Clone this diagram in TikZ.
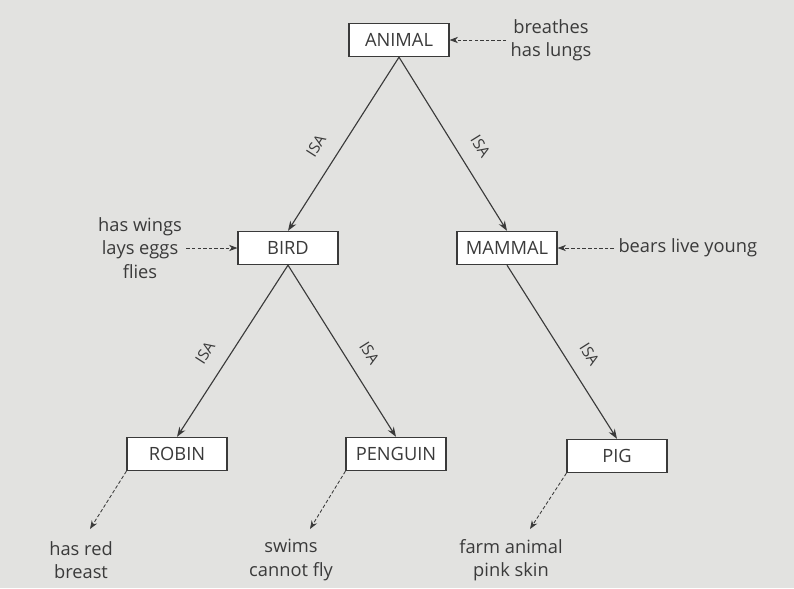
\documentclass[tikz,border=0pt]{standalone}
\usepackage{fontspec}
\setmainfont{Open Sans}
\usetikzlibrary{arrows.meta}
\definecolor{paper}{RGB}{226,226,224}
\definecolor{ink}{RGB}{58,58,58}
\tikzstyle{concept} = [
    rectangle,
    minimum width=2.5cm,
    minimum height=0.83cm,
    draw=ink,
    fill=white,
    line width=0.8pt,
    text=ink,
    font=\fontsize{13}{15}\selectfont
]
\tikzstyle{property} = [
    align=center,
    text=ink,
    inner sep=3pt,
    font=\fontsize{13}{16.5}\selectfont
]
\tikzstyle{isa} = [draw=ink, line width=0.8pt, -{Stealth[length=7pt,width=5pt]}]
\tikzstyle{has} = [draw=ink, line width=0.6pt, dash pattern=on 2.5pt off 1.5pt,
    -{Stealth[length=6pt,width=4.5pt]}]
\tikzstyle{isalabel} = [sloped, above=8pt, pos=0.58, text=ink, font=\fontsize{11}{13}\selectfont]

\begin{document}
\begin{tikzpicture}[x=0.025cm, y=-0.025cm]

\fill [paper] (0,0) rectangle (794,588);
\useasboundingbox (0,0) rectangle (794,588);

% concepts
\node (animal) [concept] at (399,40) {ANIMAL};
\node (bird) [concept] at (288,248) {BIRD};
\node (mammal) [concept] at (507,248) {MAMMAL};
\node (robin) [concept] at (177,454) {ROBIN};
\node (penguin) [concept] at (396,454) {PENGUIN};
\node (pig) [concept] at (617,456) {PIG};

% properties
\node (animalprop) [property] at (551,40) {breathes\\has lungs};
\node (birdprop) [property] at (140,248) {has wings\\lays eggs\\flies};
\node (mammalprop) [property, anchor=west] at (614,248) {bears live young};
\node (robinprop) [property] at (81,560) {has red\\breast};
\node (penguinprop) [property] at (291,560) {swims\\cannot fly};
\node (pigprop) [property] at (511,560) {farm animal\\pink skin};

\coordinate (robintip) at (90,529);
\coordinate (penguintip) at (310,529);
\coordinate (pigtip) at (530,529);

% ISA links
\draw [isa] (animal.south) -- node[isalabel]{ISA} (bird.north);
\draw [isa] (animal.south) -- node[isalabel]{ISA} (mammal.north);
\draw [isa] (bird.south) -- node[isalabel]{ISA} (robin.north);
\draw [isa] (bird.south) -- node[isalabel]{ISA} (penguin.north);
\draw [isa] (mammal.south) -- node[isalabel]{ISA} (pig.north);

% property links
\draw [has] (animalprop.west) -- (animal.east);
\draw [has] (birdprop.east) -- (bird.west);
\draw [has] (mammalprop.west) -- (mammal.east);
\draw [has] (robin.south west) -- (robintip);
\draw [has] (penguin.south west) -- (penguintip);
\draw [has] (pig.south west) -- (pigtip);

\end{tikzpicture}
\end{document}
